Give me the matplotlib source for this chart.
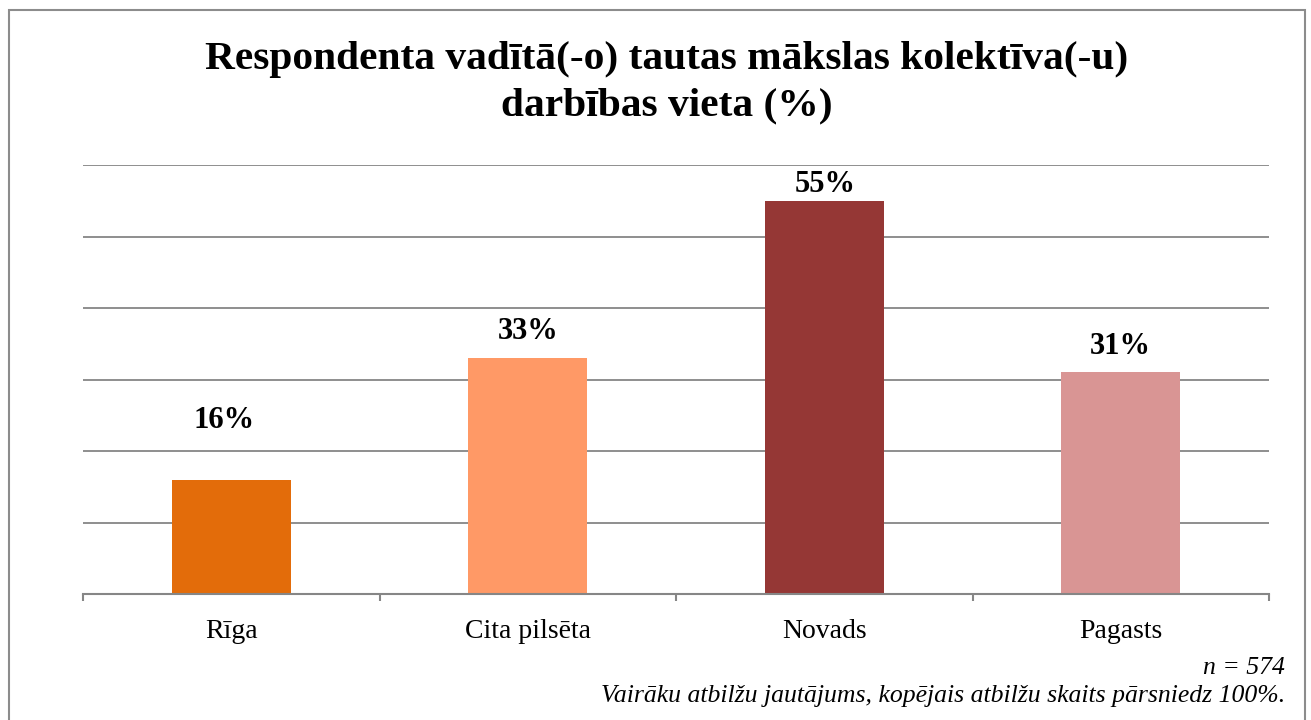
import matplotlib
matplotlib.use("Agg")
import matplotlib.pyplot as plt
from matplotlib.patches import Rectangle

categories = ["Rīga", "Cita pilsēta", "Novads", "Pagasts"]
values = [16, 33, 55, 31]
colors = ["#E36C0A", "#FF9966", "#953735", "#D99594"]
label_dx = [-5.5, 0, 1, 0]            # points
label_dy = [42.5, 19.4, 11.5, 18.7]   # points above bar top (label centre)

plt.rcParams['font.family'] = ['Liberation Serif', 'DejaVu Serif']

fig = plt.figure(figsize=(13.11, 7.2), dpi=100)
fig.patch.set_facecolor("white")
fig.add_artist(Rectangle((9/1311, -0.01), (1305-9)/1311, 1 - 10/720 + 0.01,
                         transform=fig.transFigure, fill=False,
                         edgecolor="#8C8C8C", linewidth=1.5))

ax = fig.add_axes([83/1311, 1-594/720, (1269-83)/1311, (594-165)/720])
x = list(range(len(categories)))
ax.bar(x, values, width=0.4, color=colors, zorder=3)
ax.set_xlim(-0.5, 3.5)
ax.set_ylim(0, 60)
ax.set_yticks([0, 10, 20, 30, 40, 50, 60])
ax.yaxis.grid(True, color="#868686", linewidth=1.3, zorder=0)
ax.tick_params(axis="y", left=False, labelleft=False)
for s in ["left", "right", "top"]:
    ax.spines[s].set_visible(False)
ax.spines["bottom"].set_color("#868686")
ax.spines["bottom"].set_linewidth(1.5)
ax.spines["bottom"].set_zorder(4)

ax.set_xticks([-0.5, 0.5, 1.5, 2.5, 3.5])
ax.set_xticklabels([])
ax.tick_params(axis="x", which="major", length=5, width=1.5, color="#868686", direction="out")
ax.set_xticks(x, minor=True)
ax.set_xticklabels(categories, minor=True, fontsize=20)
ax.tick_params(axis="x", which="minor", length=0, pad=18)

for xi, v, dx, dy in zip(x, values, label_dx, label_dy):
    ax.annotate(f"{v}%", (xi, v), xytext=(dx, dy), textcoords="offset points",
                ha="center", va="center", fontsize=22, fontweight="bold")

fig.text(667/1311, 1-60/720, "Respondenta vadītā(-o) tautas mākslas kolektīva(-u)",
         ha="center", va="center", fontsize=29.8, fontweight="bold")
fig.text(667/1311, 1-106/720, "darbības vieta (%)",
         ha="center", va="center", fontsize=29.8, fontweight="bold")

fig.text(1285/1311, 1-668/720, "n = 574", ha="right", va="center",
         fontsize=18.5, style="italic")
fig.text(1285/1311, 1-696/720, "Vairāku atbilžu jautājums, kopējais atbilžu skaits pārsniedz 100%.",
         ha="right", va="center", fontsize=18.5, style="italic")

fig.savefig("out.png", dpi=100)
